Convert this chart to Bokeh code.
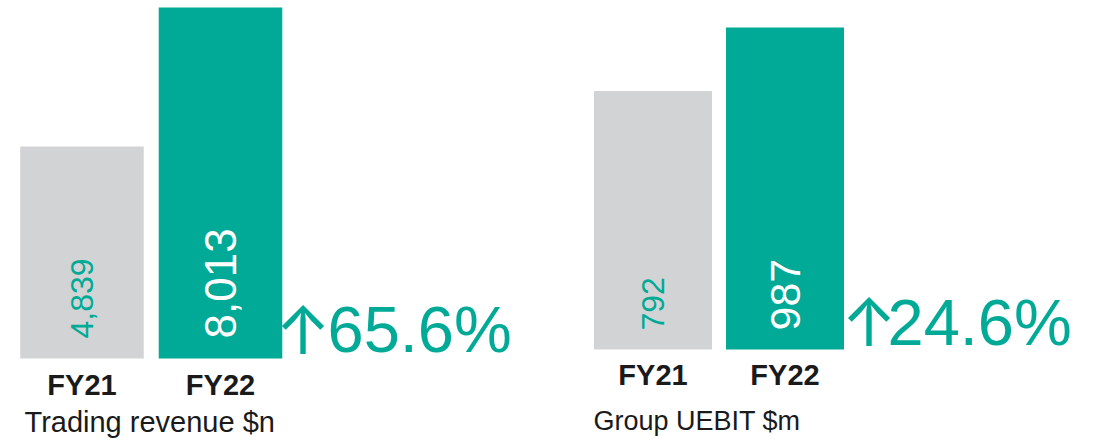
import math
from bokeh.plotting import figure
from bokeh.layouts import row
from bokeh.models import Range1d
from bokeh.core.properties import value
from bokeh.embed import file_html
from bokeh.resources import INLINE

# ---- data ----
years = ["FY21", "FY22"]
revenue = [4839, 8013]
uebit = [792, 987]
titles = ["Trading revenue $n", "Group UEBIT $m"]

TEAL = "#00AA96"
GREY = "#D1D3D4"
DARK = "#1A1A1A"
FONT = "Liberation Sans"
H = 440
PAGE_TOP = 0


def panel(vals, title, width, page_left, c0, ppu, bar_w, base, max_top,
          val_off, val_sizes, fy_mid, arrow_cx, pct_x, pct_mid, title_x,
          title_mid, title_size):
    k = (base - max_top) / max(vals)          # px per unit
    y_end = (base - PAGE_TOP) / k
    y_start = (base - (PAGE_TOP + H)) / k
    x_start = -(c0 - page_left) / ppu
    x_end = x_start + width / ppu

    def dx(px):  # picture x -> data x
        return x_start + (px - page_left) / ppu

    def dy(py):  # picture y -> data y
        return (base - py) / k

    p = figure(width=width, height=H, x_range=Range1d(x_start, x_end),
               y_range=Range1d(y_start, y_end), output_backend="svg",
               toolbar_location=None, min_border=0, outline_line_color=None)
    p.axis.visible = False
    p.grid.visible = False
    p.background_fill_color = "white"
    p.border_fill_color = "white"

    idx = list(range(len(vals)))
    p.vbar(x=idx, top=vals, bottom=0, width=bar_w, fill_color=[GREY, TEAL],
           line_color=None)

    # values inside bars (rotated)
    p.text(x=idx, y=[dy(base - val_off)] * 2,
           text=[f"{v:,}" for v in vals], angle=math.pi / 2,
           text_align="left", text_baseline="middle",
           text_font=value(FONT), text_font_size=val_sizes,
           text_color=[TEAL, "white"])

    # category labels
    p.text(x=idx, y=[dy(fy_mid)] * 2, text=years, text_align="center",
           text_baseline="middle", text_font=value(FONT),
           text_font_size="29px", text_font_style="bold", text_color=DARK)

    # growth
    growth = (vals[1] / vals[0] - 1) * 100
    p.text(x=[dx(arrow_cx)], y=[dy(pct_mid)], text=["↑"],
           text_align="center", text_baseline="middle",
           text_font=value("Inter"), text_font_size="66px",
           text_color=TEAL)
    p.text(x=[dx(pct_x)], y=[dy(pct_mid)], text=[f"{growth:.1f}%"],
           text_align="left", text_baseline="middle",
           text_font=value(FONT), text_font_size="65px", text_color=TEAL)

    # chart name
    p.text(x=[dx(title_x)], y=[dy(title_mid)], text=[title],
           text_align="left", text_baseline="middle",
           text_font=value(FONT), text_font_size=title_size, text_color=DARK)
    return p


p1 = panel(revenue, titles[0], 548, 0, 81.5, 138.5, 0.892, 358, 7,
           20, ["32px", "44px"], 384, 302.5, 327, 329, 24, 421, "29px")
p2 = panel(uebit, titles[1], 549, 548, 652.5, 132, 0.894, 349, 27,
           19, ["32px", "43px"], 374, 868.5, 887, 321.5, 593, 420, "27px")

layout = row(p1, p2)
open("out.html", "w").write(file_html(layout, INLINE))
